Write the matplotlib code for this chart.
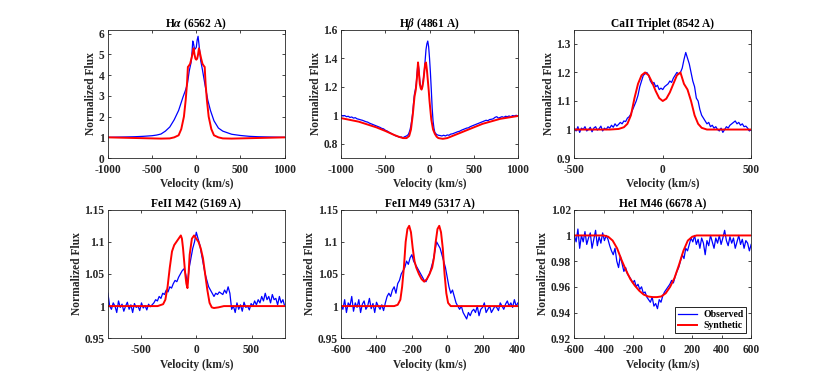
import numpy as np
import matplotlib
matplotlib.use('Agg')
import matplotlib.pyplot as plt

plt.rcParams['font.family'] = ['Liberation Serif', 'DejaVu Serif']
plt.rcParams['font.weight'] = 'bold'
plt.rcParams['mathtext.fontset'] = 'stix'
plt.rcParams['axes.unicode_minus'] = False

# ---- H alpha ----
ha_obs_v = [-1000, -900, -800, -700, -600, -500, -450, -400, -350, -300, -250, -200, -150, -120, -100,
            -80, -60, -50, -40, -30, -20, -10, 0, 10, 20, 30, 50, 70, 100, 130, 160, 200, 250, 300,
            400, 500, 600, 700, 800, 900, 1000]
ha_obs_f = [1.0, 1.01, 1.02, 1.03, 1.05, 1.08, 1.11, 1.16, 1.3, 1.5, 1.85, 2.3, 2.95, 3.3, 3.6,
            4.2, 4.6, 5.0, 5.65, 5.5, 5.25, 5.28, 5.35, 5.7, 5.88, 5.5, 4.7, 4.25, 3.5, 2.8, 2.3, 1.8, 1.45, 1.3,
            1.15, 1.09, 1.05, 1.03, 1.02, 1.01, 1.0]
ha_syn_v = [-1000, -800, -600, -400, -300, -250, -200, -170, -140, -120, -105, -95, -85, -70, -55, -40,
            -30, -20, -10, 0, 10, 20, 30, 40, 55, 70, 85, 95, 105, 120, 140, 170, 200, 250, 300, 400,
            600, 800, 1000]
ha_syn_f = [1.0, 0.98, 0.96, 0.94, 0.95, 1.0, 1.1, 1.4, 2.0, 2.8, 3.6, 4.4, 4.45, 4.55, 4.8, 5.1,
            5.3, 5.0, 4.8, 4.75, 4.8, 5.0, 5.3, 5.1, 4.8, 4.55, 4.45, 4.4, 3.6, 2.8, 2.0, 1.4, 1.1, 1.0, 0.95, 0.94,
            0.96, 0.98, 1.0]

# ---- H beta ----
hb_obs_v = np.concatenate([np.arange(-1000, -239, 20), np.arange(-230, 61, 10), np.arange(80, 1001, 20)])
hb_obs_f = [1.0, 0.995, 0.998, 0.99, 0.993, 0.985, 0.988, 0.98, 0.983, 0.975, 0.972, 0.968, 0.965, 0.96,
            0.955, 0.952, 0.945, 0.94, 0.935, 0.93, 0.925, 0.92, 0.915, 0.908, 0.905, 0.895, 0.89, 0.882,
            0.875, 0.868, 0.862, 0.855, 0.852, 0.845, 0.848, 0.843, 0.85, 0.855, 0.865,
            0.88, 0.9, 0.93, 0.97, 1.02, 1.09, 1.15, 1.18, 1.22, 1.3, 1.37, 1.32, 1.24, 1.2, 1.19,
            1.21, 1.25, 1.3, 1.38, 1.46, 1.5, 1.52, 1.48, 1.4, 1.3, 1.18, 1.05, 0.96, 0.91, 0.88,
            0.865, 0.86, 0.858, 0.855, 0.86, 0.855, 0.862, 0.86, 0.868, 0.87, 0.875, 0.88, 0.885, 0.888,
            0.895, 0.9, 0.905, 0.91, 0.912, 0.92, 0.925, 0.93, 0.935, 0.94, 0.945, 0.95, 0.955, 0.96,
            0.965, 0.962, 0.97, 0.972, 0.975, 0.985, 0.99, 0.98, 0.985, 0.99, 0.985, 0.993, 0.99, 0.995,
            0.99, 0.998, 0.995, 1.0, 0.995]
hb_syn_v = [-1000, -800, -600, -500, -400, -350, -300, -260, -230, -210, -190, -170, -155, -140, -130,
            -120, -110, -100, -90, -80, -70, -60, -50, -40, -30, -20, -10, 0, 20, 40, 60, 80, 100, 150,
            200, 300, 400, 500, 600, 800, 1000]
hb_syn_f = [0.98, 0.955, 0.915, 0.89, 0.862, 0.85, 0.84, 0.84, 0.855, 0.9, 1.0, 1.13, 1.18, 1.28, 1.37,
            1.3, 1.22, 1.19, 1.18, 1.2, 1.24, 1.3, 1.36, 1.37, 1.32, 1.25, 1.18, 1.1, 0.97, 0.9, 0.87, 0.85,
            0.84, 0.835, 0.84, 0.865, 0.89, 0.915, 0.94, 0.975, 0.995]

# ---- CaII triplet ----
ca_obs_v = np.arange(-500, 501, 10)
ca_obs_f = [1.005, 0.995, 1.01, 0.99, 1.005, 1.0, 1.01, 0.995, 1.0, 1.008, 0.992, 1.005, 1.01, 0.998,
            1.003, 1.012, 0.995, 1.005, 1.0, 1.01, 1.005,
            1.015, 1.008, 1.02, 1.012, 1.018, 1.025, 1.02, 1.03, 1.028, 1.04,
            1.045, 1.055, 1.07, 1.085, 1.1, 1.12, 1.15, 1.17, 1.19, 1.195,
            1.2, 1.19, 1.17, 1.16, 1.165, 1.15, 1.155, 1.14, 1.145, 1.14,
            1.15, 1.155, 1.16, 1.17, 1.165, 1.18, 1.19, 1.2, 1.195, 1.2,
            1.215, 1.245, 1.27, 1.25, 1.23, 1.2, 1.17, 1.15, 1.11, 1.1,
            1.07, 1.05, 1.04, 1.03, 1.02, 1.025, 1.01, 1.015, 1.005, 1.01,
            1.0, 0.995, 1.005, 0.99, 1.0, 1.01, 1.005, 1.015, 1.02, 1.025,
            1.03, 1.02, 1.025, 1.015, 1.02, 1.01, 1.012, 1.005, 0.995, 1.0]
ca_syn_v = [-500, -300, -250, -220, -200, -180, -160, -140, -120, -100, -80, -60, -40, -20, 0, 20, 40,
            60, 80, 100, 110, 120, 140, 160, 180, 200, 220, 250, 300, 500]
ca_syn_f = [1.0, 1.0, 1.002, 1.008, 1.02, 1.05, 1.11, 1.16, 1.19, 1.2, 1.19, 1.165, 1.135, 1.11, 1.1,
            1.108, 1.13, 1.16, 1.19, 1.2, 1.18, 1.16, 1.14, 1.1, 1.05, 1.02, 1.006, 1.0, 1.0, 1.0]

# ---- FeII M42 ----
m42_obs_v = np.arange(-800, 801, 16)
m42_obs_f = [1.02, 1.0, 0.995, 1.005, 1.0, 0.99, 1.008, 0.998, 1.003, 0.992, 1.0, 1.006, 0.995, 1.002,
             0.99, 1.004, 0.998, 1.0, 0.993, 1.005, 0.997, 1.001, 0.994, 1.003, 0.999, 1.002,
             1.005, 1.01, 1.008, 1.015, 1.012, 1.02, 1.018, 1.025, 1.022, 1.03, 1.028, 1.035,
             1.04, 1.038, 1.045, 1.05, 1.055, 1.058, 1.05, 1.035, 1.06, 1.075, 1.09, 1.1,
             1.115, 1.105, 1.095, 1.08, 1.065, 1.05, 1.04, 1.03, 1.025, 1.02, 1.015, 1.02, 1.018, 1.022,
             1.02, 1.018, 1.025, 1.02, 1.03, 1.02, 0.995,
             1.0, 0.99, 1.005, 0.995, 1.002, 0.992, 1.006, 0.998, 1.0, 0.994, 1.004, 1.0, 1.008, 1.002,
             1.01, 1.005, 1.015, 1.008, 1.02, 1.01, 1.015, 1.005, 1.018, 1.01, 1.012, 1.002, 1.015,
             1.005, 1.01, 1.0]
m42_syn_v = [-800, -400, -350, -300, -280, -260, -240, -220, -200, -180, -160, -140, -130, -120, -110,
             -100, -90, -80, -70, -60, -40, -20, 0, 20, 40, 60, 80, 100, 120, 140, 160, 200, 250, 300, 800]
m42_syn_f = [1.0, 1.0, 1.0, 1.003, 1.01, 1.03, 1.06, 1.085, 1.095, 1.1, 1.105, 1.11, 1.105, 1.09, 1.07,
             1.05, 1.035, 1.028, 1.05, 1.08, 1.105, 1.11, 1.105, 1.1, 1.09, 1.075, 1.05, 1.025, 1.005,
             0.998, 0.997, 0.998, 1.0, 1.0, 1.0]

# ---- FeII M49 ----
m49_obs_v = np.arange(-600, 401, 10)
m49_obs_f = [1.0, 0.995, 1.01, 0.99, 1.005, 1.0, 1.015, 0.992, 1.005, 0.998, 1.01, 0.99, 1.003, 1.008,
             0.995, 1.0, 1.012, 0.996, 1.004, 0.99, 1.006, 1.0, 0.995, 1.002, 0.993,
             1.005, 1.015, 1.02, 1.015, 1.025, 1.03, 1.02, 1.035, 1.04, 1.05,
             1.055, 1.06, 1.07, 1.065, 1.075, 1.08, 1.07, 1.065, 1.06, 1.055,
             1.05, 1.045, 1.04, 1.038, 1.045, 1.05, 1.06, 1.07, 1.085, 1.1,
             1.095, 1.09, 1.08, 1.07, 1.06, 1.045, 1.03, 1.02, 1.025, 1.015,
             1.005, 1.0, 0.995, 1.0, 0.99, 0.985, 0.98, 0.99, 0.985, 0.992,
             0.995, 0.99, 1.0, 0.985, 0.995, 0.998, 1.005, 0.99, 0.995, 1.0,
             0.99, 0.995, 1.0, 0.998, 0.993, 1.005, 1.0, 0.995, 1.003, 1.008,
             1.0, 1.005, 0.998, 1.01, 1.0, 1.005]
m49_syn_v = [-600, -300, -280, -265, -255, -245, -235, -225, -215, -205, -195, -185, -175, -160, -145,
             -130, -115, -100, -85, -75, -65, -55, -45, -35, -25, -15, -5, 5, 20, 40, 400]
m49_syn_f = [1.0, 1.0, 1.002, 1.01, 1.03, 1.06, 1.1, 1.12, 1.125, 1.115, 1.09, 1.07, 1.06, 1.05, 1.042,
             1.038, 1.042, 1.05, 1.06, 1.075, 1.1, 1.12, 1.125, 1.115, 1.09, 1.05, 1.02, 1.005, 1.0, 1.0, 1.0]

# ---- HeI M46 ----
he_obs_v = np.arange(-600, 601, 12)
he_obs_f = [1.0, 0.995, 1.005, 0.99, 1.0, 0.995, 1.003, 0.993, 0.998, 1.002, 0.99, 0.997, 1.004, 0.992,
            0.999, 0.994, 1.002, 0.996,
            1.0, 0.997, 0.992, 0.988, 0.985, 0.99, 0.98, 0.975, 0.984, 0.978, 0.972, 0.975,
            0.97, 0.968, 0.966, 0.963, 0.965, 0.96, 0.962, 0.958, 0.96, 0.955, 0.956, 0.952,
            0.95, 0.948, 0.952, 0.945, 0.947, 0.943, 0.95, 0.948, 0.953, 0.956, 0.958, 0.96,
            0.962, 0.965, 0.963, 0.968, 0.972, 0.975, 0.98, 0.985, 0.982, 0.99, 0.988, 0.993,
            0.998, 0.995, 1.0, 0.993, 0.997, 0.99, 0.998, 0.994, 0.985, 0.996, 0.992, 1.0,
            0.995, 0.99, 0.998, 0.994, 1.0, 0.993, 0.998, 1.004, 0.996, 0.992, 0.999, 0.994,
            0.998, 0.99, 0.995, 1.0, 0.993, 0.997, 0.99, 0.996, 0.994, 0.988, 0.993]
he_syn_v = [-600, -400, -370, -340, -310, -280, -250, -220, -190, -160, -130, -100, -70, -40, -10, 20,
            50, 80, 110, 140, 170, 200, 230, 600]
he_syn_f = [1.0, 1.0, 0.999, 0.996, 0.99, 0.981, 0.973, 0.966, 0.961, 0.957, 0.954, 0.9525, 0.952, 0.952,
            0.9525, 0.955, 0.96, 0.967, 0.977, 0.988, 0.996, 0.999, 1.0, 1.0]

titles = [r'H$\alpha$ (6562 A)', r'H$\beta$ (4861 A)', 'CaII Triplet (8542 A)',
          'FeII M42 (5169 A)', 'FeII M49 (5317 A)', 'HeI M46 (6678 A)']
obs = [(ha_obs_v, ha_obs_f), (hb_obs_v, hb_obs_f), (ca_obs_v, ca_obs_f),
       (m42_obs_v, m42_obs_f), (m49_obs_v, m49_obs_f), (he_obs_v, he_obs_f)]
syn = [(ha_syn_v, ha_syn_f), (hb_syn_v, hb_syn_f), (ca_syn_v, ca_syn_f),
       (m42_syn_v, m42_syn_f), (m49_syn_v, m49_syn_f), (he_syn_v, he_syn_f)]
xlims = [(-1000, 1000), (-1000, 1000), (-500, 500), (-800, 800), (-600, 400), (-600, 600)]
ylims = [(0, 6.2), (0.7, 1.6), (0.9, 1.35), (0.95, 1.15), (0.95, 1.15), (0.92, 1.02)]
xticks = [[-1000, -500, 0, 500, 1000], [-1000, -500, 0, 500, 1000], [-500, 0, 500],
          [-500, 0, 500], [-600, -400, -200, 0, 200, 400], [-600, -400, -200, 0, 200, 400, 600]]
yticks = [[0, 1, 2, 3, 4, 5, 6], [0.8, 1, 1.2, 1.4, 1.6], [0.9, 1, 1.1, 1.2, 1.3],
          [0.95, 1, 1.05, 1.1, 1.15], [0.95, 1, 1.05, 1.1, 1.15], [0.92, 0.94, 0.96, 0.98, 1, 1.02]]

fig = plt.figure(figsize=(8.3, 3.8), dpi=100)
lefts = [0.130, 0.411, 0.692]
bottoms = [0.584, 0.110]
dark = '#262626'
fs = 8.3

for i in range(6):
    ax = fig.add_axes([lefts[i % 3], bottoms[i // 3], 0.213, 0.338])
    ax.plot(obs[i][0], obs[i][1], color='blue', lw=0.9, label='Observed')
    ax.plot(syn[i][0], syn[i][1], color='red', lw=1.4, label='Synthetic')
    ax.set_xlim(xlims[i])
    ax.set_ylim(ylims[i])
    ax.set_xticks(xticks[i])
    ax.set_yticks(yticks[i])
    ax.set_yticklabels([('%g' % t) for t in yticks[i]])
    ax.tick_params(direction='in', top=True, right=True, length=2.5, width=0.6,
                   labelsize=fs, colors=dark, pad=2.5)
    ax.tick_params(axis='x', pad=4)
    for s in ax.spines.values():
        s.set_linewidth(0.6)
        s.set_color(dark)
    ax.set_title(titles[i], fontsize=fs, fontweight='bold', pad=2)
    ax.set_xlabel('Velocity (km/s)', fontsize=fs, fontweight='bold', color=dark, labelpad=2)
    ax.set_ylabel('Normalized Flux', fontsize=fs, fontweight='bold', color=dark, labelpad=1)
    if i == 5:
        leg = ax.legend(loc='lower right', fontsize=7, fancybox=False, edgecolor='black',
                        framealpha=1, handlelength=2.0, borderpad=0.3, labelspacing=0.25,
                        handletextpad=0.6, borderaxespad=0.5)
        leg.get_frame().set_linewidth(0.6)

fig.savefig('out.png', dpi=100)
